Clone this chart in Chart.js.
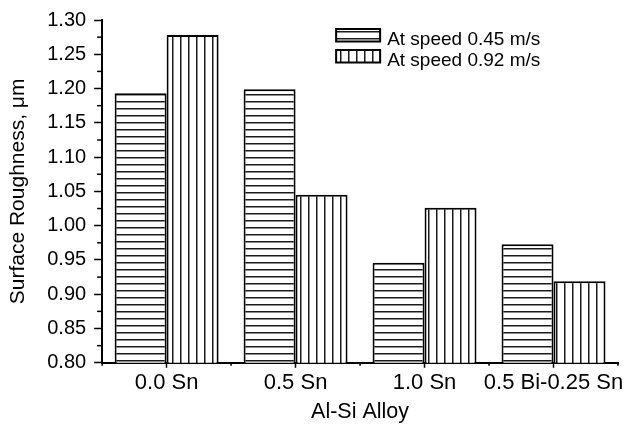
<!DOCTYPE html>
<html>
<head>
<meta charset="utf-8">
<script src="https://cdn.jsdelivr.net/npm/chart.js@4.4.1/dist/chart.umd.min.js"></script>
<style>
  html, body { margin: 0; padding: 0; background: #fff; }
  #wrap { width: 638px; height: 426px; }
</style>
</head>
<body>
<div id="wrap"><canvas id="chart"></canvas></div>
<script>
(function () {
    'use strict';

    const alloys = ['0.0 Sn', '0.5 Sn', '1.0 Sn', '0.5 Bi-0.25 Sn'];
    const speedLow = [1.193, 1.199, 0.946, 0.973];
    const speedHigh = [1.278, 1.045, 1.026, 0.919];
    const seriesNames = ['At speed 0.45 m/s', 'At speed 0.92 m/s'];
    const yTicks = [0.80, 0.85, 0.90, 0.95, 1.00, 1.05, 1.10, 1.15, 1.20, 1.25, 1.30];

    const FONT = "'Liberation Sans', Arial, sans-serif";
    const INK = '#000';

    function makePattern(dir) {
        const c = document.createElement('canvas');
        const ctx = c.getContext('2d');
        if (dir === 'h') {
            c.width = 8; c.height = 7;
            ctx.fillStyle = '#fff';
            ctx.fillRect(0, 0, 8, 7);
            ctx.fillStyle = '#1a1a1a';
            ctx.fillRect(0, 3, 8, 1.5);
        } else {
            c.width = 8; c.height = 8;
            ctx.fillStyle = '#fff';
            ctx.fillRect(0, 0, 8, 8);
            ctx.fillStyle = '#1a1a1a';
            ctx.fillRect(4, 0, 1.5, 8);
        }
        return ctx.createPattern(c, 'repeat');
    }

    const hatchH = makePattern('h');
    const hatchV = makePattern('v');

    // minor ticks on y, boundary ticks on x, and the boxed legend
    const extras = {
        id: 'extras',
        afterDraw(chart) {
            const ctx = chart.ctx;
            const y = chart.scales.y;
            const x = chart.scales.x;
            const area = chart.chartArea;
            ctx.save();
            ctx.strokeStyle = INK;
            ctx.lineWidth = 1.5;
            for (let i = 0; i < yTicks.length - 1; i++) {
                const py = y.getPixelForValue((yTicks[i] + yTicks[i + 1]) / 2);
                ctx.beginPath();
                ctx.moveTo(area.left - 5, py);
                ctx.lineTo(area.left, py);
                ctx.stroke();
            }
            const bounds = [area.left, area.right];
            for (let i = 0; i < alloys.length - 1; i++) {
                bounds.push((x.getPixelForValue(i) + x.getPixelForValue(i + 1)) / 2);
            }
            bounds.forEach((px) => {
                ctx.beginPath();
                ctx.moveTo(px, area.bottom);
                ctx.lineTo(px, area.bottom + 3);
                ctx.stroke();
            });

            // legend
            const lx = area.left + 234;
            const ly = area.top + 9;
            const fills = [hatchH, hatchV];
            ctx.font = '19px ' + FONT;
            ctx.textBaseline = 'alphabetic';
            seriesNames.forEach((name, i) => {
                const by = ly + i * 21;
                ctx.fillStyle = fills[i];
                ctx.fillRect(lx, by, 44, 12.5);
                ctx.lineWidth = 2;
                ctx.strokeRect(lx, by, 44, 12.5);
                ctx.fillStyle = INK;
                ctx.fillText(name, lx + 51, by + 15.5);
            });
            ctx.restore();
        },
    };

    new Chart(document.getElementById('chart'), {
        type: 'bar',
        data: {
            labels: alloys,
            datasets: [
                {
                    label: seriesNames[0],
                    data: speedLow,
                    backgroundColor: hatchH,
                    borderColor: INK,
                    borderWidth: 2,
                    borderSkipped: false,
                },
                {
                    label: seriesNames[1],
                    data: speedHigh,
                    backgroundColor: hatchV,
                    borderColor: INK,
                    borderWidth: 2,
                    borderSkipped: false,
                },
            ],
        },
        options: {
            responsive: true,
            maintainAspectRatio: false,
            animation: false,
            events: [],
            datasets: { bar: { categoryPercentage: 0.806, barPercentage: 1.0 } },
            layout: { padding: { left: 6, right: 20, top: 18, bottom: 1 } },
            plugins: {
                legend: { display: false },
                tooltip: { enabled: false },
            },
            scales: {
                x: {
                    grid: {
                        offset: false,
                        drawOnChartArea: false,
                        tickLength: 5,
                        tickColor: INK,
                        tickWidth: 1.5,
                    },
                    border: { color: INK, width: 2 },
                    ticks: {
                        color: INK,
                        font: { family: FONT, size: 22 },
                        padding: 2,
                        maxRotation: 0,
                        autoSkip: false,
                    },
                    title: {
                        display: true,
                        text: 'Al-Si Alloy',
                        color: INK,
                        font: { family: FONT, size: 21.5 },
                        padding: { top: 1, bottom: 0 },
                    },
                },
                y: {
                    min: 0.8,
                    max: 1.3,
                    afterBuildTicks: (scale) => {
                        scale.ticks = yTicks.map((v) => ({ value: v }));
                    },
                    grid: {
                        drawOnChartArea: false,
                        tickLength: 8,
                        tickColor: INK,
                        tickWidth: 1.5,
                    },
                    border: { color: INK, width: 2 },
                    ticks: {
                        color: INK,
                        font: { family: FONT, size: 20 },
                        padding: 8,
                        callback: (v) => Number(v).toFixed(2),
                    },
                    title: {
                        display: true,
                        text: 'Surface Roughness, μm',
                        color: INK,
                        font: { family: FONT, size: 21 },
                        padding: { top: 0, bottom: 8 },
                    },
                },
            },
        },
        plugins: [extras],
    });
})();
</script>
</body>
</html>
